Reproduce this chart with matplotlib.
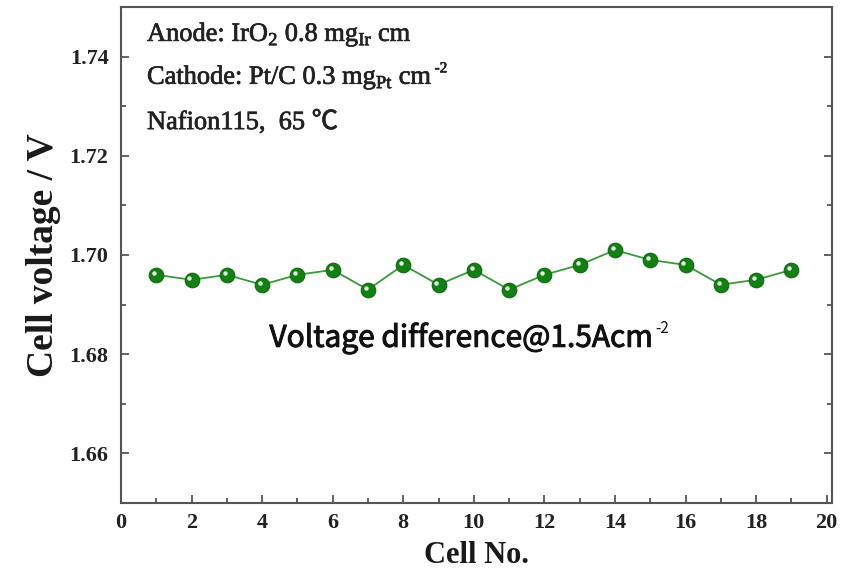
import numpy as np
import matplotlib
matplotlib.use("Agg")
import matplotlib.pyplot as plt
import matplotlib.transforms as mtransforms
import matplotlib.patheffects as pe
from matplotlib.ticker import MultipleLocator

plt.rcParams['mathtext.fontset'] = 'custom'
plt.rcParams['mathtext.rm'] = 'Liberation Serif'

# data
cells = np.arange(1, 20)
voltage = [1.696, 1.695, 1.696, 1.694, 1.696, 1.697, 1.693, 1.698, 1.694, 1.697,
           1.693, 1.696, 1.698, 1.701, 1.699, 1.698, 1.694, 1.695, 1.697]
notes = [r"Anode: IrO$_\mathrm{2}$ 0.8 mg$_\mathrm{Ir}$ cm",
         r"Cathode: Pt/C 0.3 mg$_\mathrm{Pt}$ cm",
         "Nafion115,  65 \u2103"]

fig = plt.figure(figsize=(8.54, 5.79), dpi=100)
ax = fig.add_axes([0.1417, 0.1313, 0.8325, 0.8566])

ax.plot(cells, voltage, color='#3a9a3a', lw=1.3, zorder=2)
ax.plot(cells, voltage, ls='none', marker='o', ms=10.5, mfc='#128012',
        mec='#0d6b0d', mew=0.8, zorder=3)
# little shine on each ball
shine = ax.transData + mtransforms.ScaledTranslation(-1.5/72, 1.5/72, fig.dpi_scale_trans)
ax.plot(cells, voltage, ls='none', marker='o', ms=3.2, mfc='#e0f2e0', mec='none',
        transform=shine, zorder=4)

ax.set_xlim(0, 20.15)
ax.set_ylim(1.65, 1.75)
ax.xaxis.set_major_locator(MultipleLocator(2))
ax.xaxis.set_minor_locator(MultipleLocator(1))
ax.yaxis.set_minor_locator(MultipleLocator(0.01))
ax.set_yticks([1.66, 1.68, 1.70, 1.72, 1.74])

for s in ax.spines.values():
    s.set_color('#555555')
    s.set_linewidth(1.5)
ax.tick_params(which='both', direction='in', right=True, top=False, color='#555555', width=1.3)
ax.tick_params(which='major', length=6)
ax.tick_params(which='minor', length=3.5)
ax.tick_params(axis='x', pad=7)
ax.tick_params(axis='y', pad=9)
for lab in ax.get_xticklabels() + ax.get_yticklabels():
    lab.set_fontfamily('Liberation Serif')
    lab.set_fontweight('bold')
    lab.set_fontsize(16)
    lab.set_color('#222222')

ax.set_xlabel("Cell No.", family='Liberation Serif', weight='bold', fontsize=22, color='#1a1a1a', labelpad=6)
ax.set_ylabel("Cell voltage / V", family='Liberation Serif', weight='bold', fontsize=27, color='#1a1a1a', labelpad=6)

thick = [pe.withStroke(linewidth=0.5, foreground='#222222')]
ys = [0.9435, 0.857, 0.768]
note_txt = []
for t, y in zip(notes, ys):
    note_txt.append(ax.text(0.0366, y, t, transform=ax.transAxes,
                            family=['Liberation Serif', 'Noto Sans CJK SC'],
                            fontsize=19, color='#222222', va='center', path_effects=thick))
ax.annotate("-2", xy=(1, 0.85), xycoords=note_txt[1], xytext=(1.5, 0), textcoords='offset points',
            family='Liberation Serif', fontsize=11, color='#222222', va='center', path_effects=thick)

vd = ax.text(0.478, 0.333, "Voltage difference@1.5Acm", transform=ax.transAxes,
             family='Noto Sans CJK SC', fontsize=21.5, color='#111111', ha='center', va='center',
             path_effects=[pe.withStroke(linewidth=0.7, foreground='#111111')])
ax.annotate("-2", xy=(1, 0.78), xycoords=vd, xytext=(2, 0), textcoords='offset points',
            family='Noto Sans CJK SC', fontsize=11, color='#111111', va='center')

fig.savefig("out.png", dpi=100)
